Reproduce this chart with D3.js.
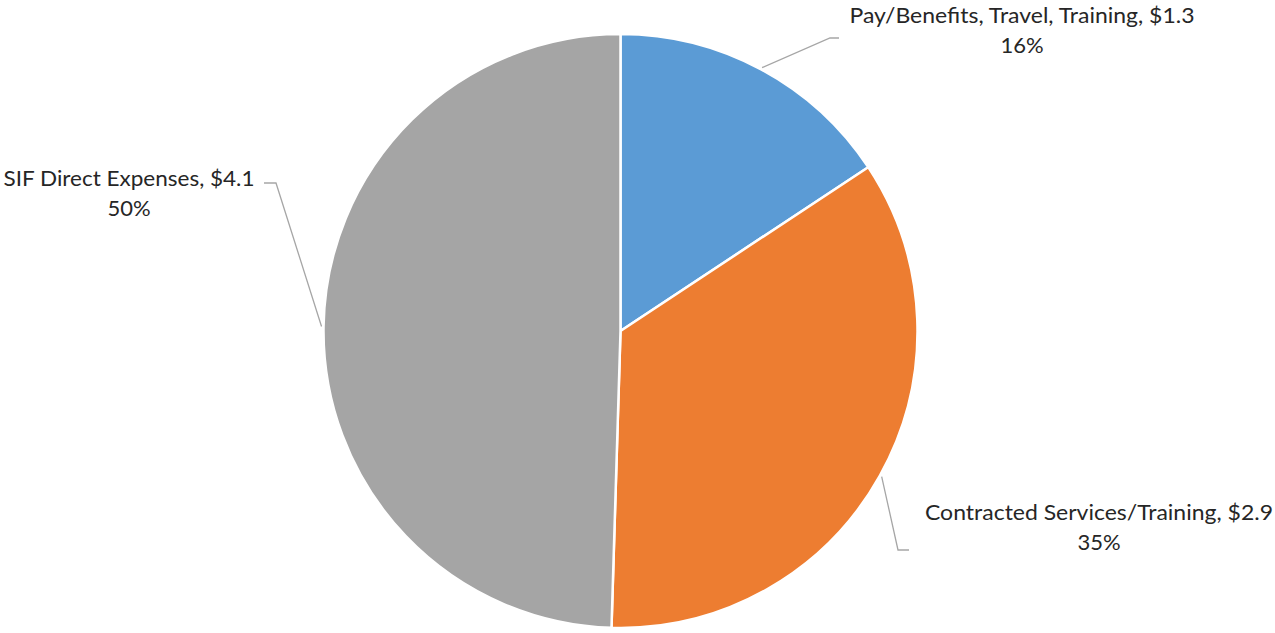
<!DOCTYPE html>
<html><head><meta charset="utf-8">
<script src="https://cdn.jsdelivr.net/npm/d3@7"></script>
<style>html,body{margin:0;padding:0;background:#fff;}svg{display:block;}</style>
</head><body>
<svg id="chart" width="1275" height="633"></svg>
<script>
const categories = ["Pay/Benefits, Travel, Training", "Contracted Services/Training", "SIF Direct Expenses"];
const values = [1.30, 2.88, 4.10];
const colors = ["#5B9BD5", "#ED7D31", "#A5A5A5"];

const W = 1275, H = 633;
const cx = 620.5, cy = 331, R = 297;
const svg = d3.select("#chart");
const g = svg.append("g").attr("transform", `translate(${cx},${cy})`);

const pie = d3.pie().sort(null).value(d => d)(values);
const arc = d3.arc().innerRadius(0).outerRadius(R);
const total = d3.sum(values);

g.selectAll("path.slice").data(pie).enter().append("path")
  .attr("class", "slice")
  .attr("d", arc)
  .attr("fill", (d, i) => colors[i])
  .attr("stroke", "#fff").attr("stroke-width", 2.5).attr("stroke-linejoin", "round");

// label layout (positions relative to page)
const layout = [
  {elbow: [[830, 38], [839, 38]], tx: 1022, ty: 23, width: 345},
  {elbow: [[898, 550], [909, 550]], tx: 1099, ty: 520, width: 348},
  {elbow: [[276, 183], [264, 183]], tx: 129, ty: 186, width: 251}
];

const lab = svg.append("g");
pie.forEach((d, i) => {
  const a = (d.startAngle + d.endAngle) / 2;
  const sx = cx + Math.sin(a) * (R + 2), sy = cy - Math.cos(a) * (R + 2);
  const L = layout[i];
  const pts = [[sx, sy]].concat(L.elbow);
  lab.append("path").attr("d", d3.line()(pts))
    .attr("fill", "none").attr("stroke", "#a6a6a6").attr("stroke-width", 1.3);
  const t = lab.append("text").attr("text-anchor", "middle")
    .attr("font-family", "Lato, 'Open Sans', sans-serif").attr("font-size", 22)
    .attr("fill", "#262626");
  t.append("tspan").attr("x", L.tx).attr("y", L.ty)
    .attr("textLength", L.width).attr("lengthAdjust", "spacingAndGlyphs")
    .text(`${categories[i]}, $${values[i].toFixed(1)}`);
  t.append("tspan").attr("x", L.tx).attr("y", L.ty + 30)
    .text(`${Math.round(values[i] / total * 100)}%`);
});
</script>
</body></html>
